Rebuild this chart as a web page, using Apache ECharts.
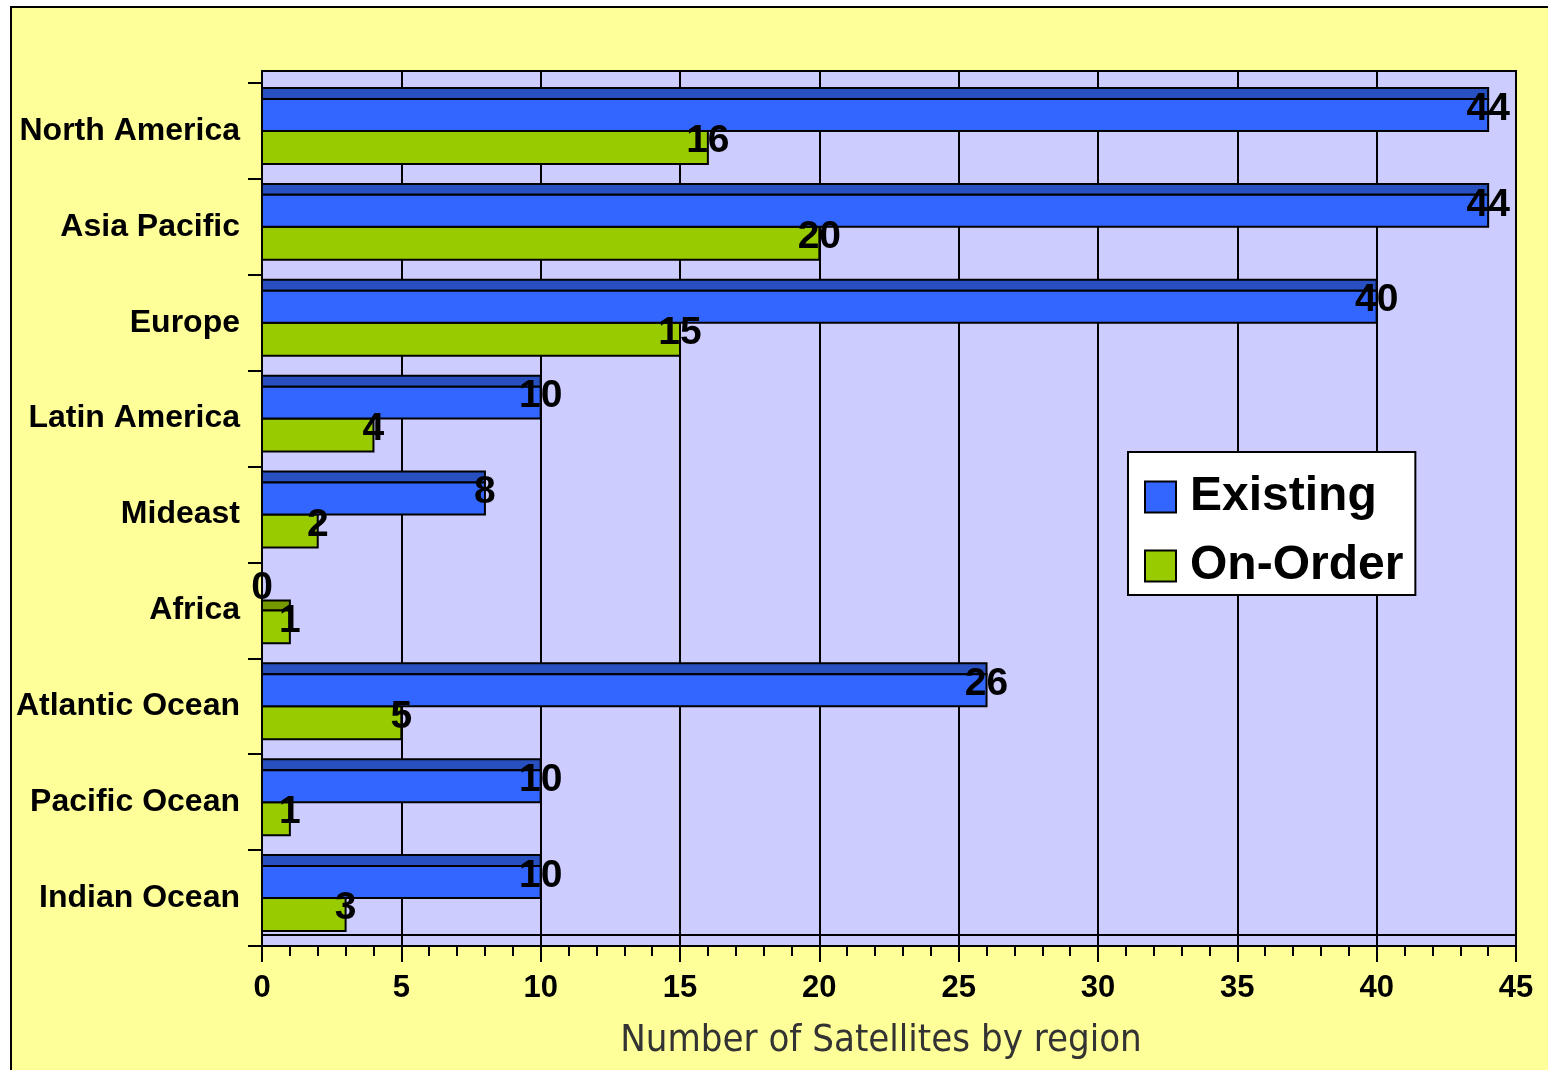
<!DOCTYPE html>
<html>
<head>
<meta charset="utf-8">
<script src="https://cdn.jsdelivr.net/npm/echarts@6/dist/echarts.min.js"></script>
<style>
  html, body { margin: 0; padding: 0; background: #fff; overflow: hidden; }
  #wrap { position: relative; width: 1548px; height: 1070px; overflow: hidden; }
  #frame {
    position: absolute; left: 10px; top: 6px; width: 1600px; height: 1100px;
    background: #FFFF99; border: 2px solid #000; box-sizing: border-box;
  }
  #chart { position: absolute; left: 0; top: 0; width: 1548px; height: 1070px; }
</style>
</head>
<body>
<div id="wrap">
  <div id="frame"></div>
  <div id="chart"></div>
</div>
<script>
  // regions top to bottom
  var regions = ['North America', 'Asia Pacific', 'Europe', 'Latin America', 'Mideast',
                 'Africa', 'Atlantic Ocean', 'Pacific Ocean', 'Indian Ocean'];
  var existing = [44, 44, 40, 10, 8, 0, 26, 10, 10];
  var onOrder = [16, 20, 15, 4, 2, 1, 5, 1, 3];
  var xTicks = [0, 5, 10, 15, 20, 25, 30, 35, 40, 45];

  var FONT = '"Liberation Sans", Arial, sans-serif';

  // front face band [a,b] and top face band [c,d], as fraction of the category band
  var shapes = {
    Existing: { front: [16 / 96, 48 / 96], top: [5 / 96, 16 / 96], color: '#3366FF', dark: '#2850C0' },
    'On-Order': { front: [48 / 96, 81 / 96], top: [38 / 96, 48 / 96], color: '#99CC00', dark: '#779900' }
  };

  function barRenderer(name) {
    var s = shapes[name];
    return function (params, api) {
      var cat = api.value(0);
      var start = api.coord([0, cat]);
      var end = api.coord([api.value(1), cat]);
      var band = api.size([0, 1])[1];
      var y0 = start[1] - band / 2;
      var w = end[0] - start[0];
      var kids = [];
      if (w > 0) {
        kids.push({
          type: 'rect',
          shape: { x: start[0], y: y0 + band * s.top[0], width: w, height: band * (s.top[1] - s.top[0]) },
          style: { fill: s.dark, stroke: '#000', lineWidth: 2 }
        });
        kids.push({
          type: 'rect',
          shape: { x: start[0], y: y0 + band * s.front[0], width: w, height: band * (s.front[1] - s.front[0]) },
          style: { fill: s.color, stroke: '#000', lineWidth: 2 }
        });
      }
      return { type: 'group', children: kids };
    };
  }

  function labelRenderer(params, api) {
    var cat = api.value(0);
    var band = api.size([0, 1])[1];
    var kids = [];
    [['Existing', api.value(1)], ['On-Order', api.value(2)]].forEach(function (p) {
      var s = shapes[p[0]];
      var start = api.coord([0, cat]);
      var end = api.coord([p[1], cat]);
      var y0 = start[1] - band / 2;
      var mid = y0 + band * (s.front[0] + s.front[1]) / 2;
      kids.push({
        type: 'text',
        style: {
          text: String(p[1]), x: end[0], y: mid - 6,
          align: 'center', verticalAlign: 'middle',
          fontSize: 39, fontWeight: 'bold', fontFamily: FONT, fill: '#000'
        }
      });
    });
    return { type: 'group', children: kids };
  }

  var existingData = existing.map(function (v, i) { return [i, v]; });
  var onOrderData = onOrder.map(function (v, i) { return [i, v]; });
  var labelData = regions.map(function (r, i) { return [i, existing[i], onOrder[i]]; });

  var chart = echarts.init(document.getElementById('chart'));
  chart.setOption({
    backgroundColor: 'transparent',
    animation: false,
    grid: [
      { left: 262, right: 32, top: 71, bottom: 124, show: true, backgroundColor: '#CCCCFF',
        borderColor: '#000', borderWidth: 2 },
      { left: 262, right: 32, top: 83, bottom: 124 }
    ],
    legend: {
      left: 1128, top: 452,
      orient: 'vertical',
      data: ['Existing', 'On-Order'],
      icon: 'rect',
      itemWidth: 31, itemHeight: 31, itemGap: 21,
      padding: [21, 12, 5, 16],
      backgroundColor: '#fff', borderColor: '#000', borderWidth: 2,
      itemStyle: { borderColor: '#000', borderWidth: 2 },
      textStyle: { fontSize: 48, fontWeight: 'bold', fontFamily: FONT, color: '#000',
                   lineHeight: 31, padding: [0, 0, 0, 9] }
    },
    xAxis: [
      {
        gridIndex: 0, type: 'value', min: xTicks[0], max: xTicks[xTicks.length - 1], interval: 5,
        name: 'Number of Satellites by region', nameLocation: 'middle', nameGap: 76,
        nameTextStyle: { fontSize: 38, fontFamily: '"Liberation Sans Narrow", "DejaVu Sans Condensed", sans-serif',
                         color: '#333', padding: [0, 16, 0, 0] },
        axisLine: { show: true, lineStyle: { color: '#000', width: 2 } },
        axisTick: { show: true, length: 16, lineStyle: { color: '#000', width: 2 } },
        minorTick: { show: true, splitNumber: 5, length: 10, lineStyle: { color: '#000', width: 2 } },
        splitLine: { show: true, lineStyle: { color: '#000', width: 2 } },
        axisLabel: { fontSize: 31, fontWeight: 'bold', fontFamily: FONT, color: '#000', margin: 27 }
      },
      { gridIndex: 1, type: 'value', min: 0, max: 45, show: false }
    ],
    yAxis: [
      { gridIndex: 0, type: 'value', show: false },
      {
        gridIndex: 1, type: 'category', data: regions, inverse: true,
        axisLine: { show: true, lineStyle: { color: '#000', width: 2 } },
        axisTick: { show: true, length: 14, interval: 0, lineStyle: { color: '#000', width: 2 } },
        axisLabel: { fontSize: 32, fontWeight: 'bold', fontFamily: FONT, color: '#000', margin: 22 },
        splitLine: { show: false }
      }
    ],
    graphic: [
      { type: 'line', z: 1, shape: { x1: 262, y1: 935, x2: 1516, y2: 935 },
        style: { stroke: '#000', lineWidth: 2 } }
    ],
    series: [
      { name: 'Existing', type: 'custom', xAxisIndex: 1, yAxisIndex: 1, z: 3,
        itemStyle: { color: '#3366FF' }, renderItem: barRenderer('Existing'), data: existingData },
      { name: 'On-Order', type: 'custom', xAxisIndex: 1, yAxisIndex: 1, z: 2,
        itemStyle: { color: '#99CC00' }, renderItem: barRenderer('On-Order'), data: onOrderData },
      { name: 'labels', type: 'custom', xAxisIndex: 1, yAxisIndex: 1, z: 5, silent: true,
        renderItem: labelRenderer, data: labelData }
    ]
  });
</script>
</body>
</html>
